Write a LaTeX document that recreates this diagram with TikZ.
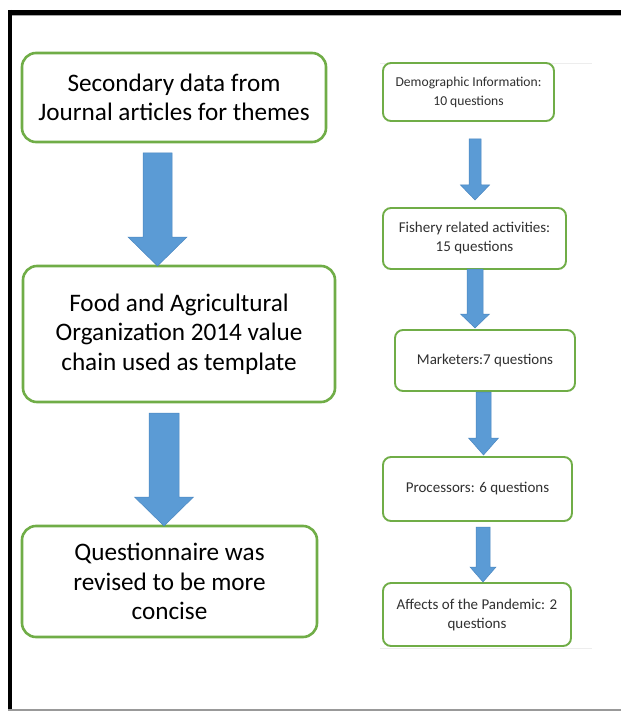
\documentclass[tikz,border=0pt]{standalone}
\usepackage{fontspec}
\setmainfont{Carlito}
\definecolor{boxgreen}{HTML}{70AD47}
\definecolor{arrowblue}{HTML}{5B9BD5}
\definecolor{arrowedge}{HTML}{4A86C0}
\definecolor{faint}{HTML}{EDEDED}
\definecolor{rtext}{HTML}{303030}
\tikzset{
  bigbox/.style={draw=boxgreen, line width=2.6pt, rounded corners=14pt, fill=white,
    align=center, inner sep=0pt, text=black,
    font=\fontsize{25.2}{29.5}\selectfont},
  smallbox/.style={draw=boxgreen, line width=1.9pt, rounded corners=8pt, fill=white,
    align=center, inner sep=0pt, text=rtext,
    font=\fontsize{15}{19}\selectfont},
  blockarrow/.style={fill=arrowblue, draw=arrowedge, line width=0.5pt, line join=miter},
}
\newcommand{\barrow}[6]{% cx, top, head start, tip, shaft half, head half
  \filldraw[blockarrow] ({#1-#5},{#2}) -- ({#1+#5},{#2}) -- ({#1+#5},{#3}) -- ({#1+#6},{#3})
    -- ({#1},{#4}) -- ({#1-#6},{#3}) -- ({#1-#5},{#3}) -- cycle;}
\begin{document}
\begin{tikzpicture}[x=1pt,y=-1pt]
\useasboundingbox (0,0) rectangle (621,711);
% frame
\draw[black, line width=5pt] (8,12.5) -- (621,12.5);
\draw[gray!70, line width=1pt] (12,15.5) -- (621,15.5);
\draw[black, line width=4pt] (10,10) -- (10,711);
\draw[gray!80, line width=2pt] (8,710) -- (621,710);
% faint image edges
\draw[faint, line width=0.8pt] (380,63) -- (592,63);
\draw[faint, line width=0.8pt] (380,648) -- (592,648);
% left column
\node[bigbox, minimum width=304pt, minimum height=89pt] (s1) at (174,97.5)
  {Secondary data from\\Journal articles for themes};
\node[bigbox, minimum width=312pt, minimum height=136pt] (s2) at (179,334)
  {Food and Agricultural\\Organization 2014 value\\chain used as template};
\node[bigbox, minimum width=295pt, minimum height=111pt] (s3) at (169.5,581.5)
  {Questionnaire was\\revised to be more\\concise};
% right column
\node[smallbox, minimum width=171pt, minimum height=58pt,
  font=\fontsize{13.6}{19}\selectfont] (q1) at (468.5,92)
  {Demographic Information:\\10 questions};
\node[smallbox, minimum width=183pt, minimum height=61pt] (q2) at (474.5,238.5)
  {Fishery related activities:\\15 questions};
\node[smallbox, minimum width=180pt, minimum height=61pt] (q3) at (485,360.5)
  {Marketers:7 questions};
\node[smallbox, minimum width=189pt, minimum height=64pt] (q4) at (477.5,489)
  {Processors: 6 questions};
\node[smallbox, minimum width=188pt, minimum height=63pt] (q5) at (477,614.5)
  {Affects of the Pandemic: 2\\questions};
% block arrows
\barrow{157.5}{153}{237}{266}{14.5}{29.5}
\barrow{164}{413}{497}{526}{15}{29.5}
\barrow{475}{139}{185}{200}{6}{14.5}
\barrow{475}{269}{314}{328}{8}{14.5}
\barrow{483.5}{392}{438}{455}{7.5}{15}
\barrow{483}{527}{567}{582}{7}{13}
\end{tikzpicture}
\end{document}
